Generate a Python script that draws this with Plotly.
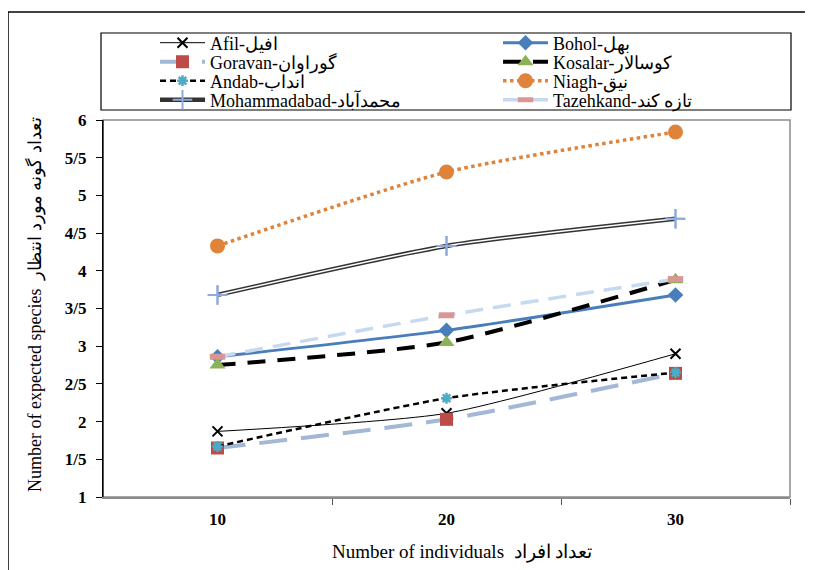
import plotly.graph_objects as go

x_vals = [10, 20, 30]
afil = [1.87, 2.11, 2.90]
bohol = [2.86, 3.21, 3.68]
goravan = [1.65, 2.03, 2.64]
kosalar = [2.75, 3.05, 3.88]
andab = [1.67, 2.31, 2.65]
niagh = [4.33, 5.31, 5.84]
mohammadabad = [3.68, 4.33, 4.69]
tazehkand = [2.86, 3.41, 3.89]

y_ticks = [1, 1.5, 2, 2.5, 3, 3.5, 4, 4.5, 5, 5.5, 6]
y_tick_text = ["1", "1/5", "2", "2/5", "3", "3/5", "4", "4/5", "5", "5/5", "6"]
x_tick_text = ["10", "20", "30"]

serif = "'Liberation Serif', 'Times New Roman', serif"

fig = go.Figure()

def add(name, y, color, width, dash, symbol, mcolor, msize, mline, legend):
    fig.add_trace(go.Scatter(
        x=x_vals, y=y, name=name, mode="lines+markers", legend=legend,
        line=dict(color=color, width=width, dash=dash, shape="spline", smoothing=0.6),
        marker=dict(symbol=symbol, color=mcolor, size=msize,
                    line=mline if mline else dict(width=0)),
    ))

add("Afil-افیل", afil, "black", 1, "solid", "x-thin", "black", 10,
    dict(color="black", width=2), "legend")
add("Bohol-بهل", bohol, "#4A7EBB", 3, "solid", "diamond", "#4A7EBB", 12, None, "legend2")
add("Goravan-گوراوان", goravan, "#A3B8D6", 4, "28px,14px", "square", "#BE4B48", 13, None, "legend3")
add("Kosalar-کوسالار", kosalar, "black", 4, "18px,12px", "triangle-up", "#8DB255", 14, None, "legend4")
add("Andab-انداب", andab, "black", 2.5, "6px,4px", "asterisk-open", "#4BACC6", 9,
    dict(color="#4BACC6", width=2.5), "legend5")
add("Niagh-نیق", niagh, "#E0833A", 3.5, "dot", "circle", "#E0833A", 15, None, "legend6")
add("Mohammadabad-محمدآباد", mohammadabad, "#333333", 4.5, "solid", "cross-thin", "#8EAADB", 14,
    dict(color="#8EAADB", width=2), "legend7")
fig.add_trace(go.Scatter(x=x_vals, y=mohammadabad, mode="lines", showlegend=False,
                         line=dict(color="white", width=1.5, shape="spline", smoothing=0.6),
                         hoverinfo="skip"))
fig.add_trace(go.Scatter(x=x_vals, y=mohammadabad, mode="markers", showlegend=False,
                         marker=dict(symbol="cross-thin", size=14,
                                     line=dict(color="#8EAADB", width=2)),
                         hoverinfo="skip"))
add("Tazehkand-تازه کند", tazehkand, "#C6D9F1", 3.5, "18px,10px", "line-ew", "#D99694", 11,
    dict(color="#D99694", width=6), "legend8")

# geometry in screen pixels (page has an 8px body margin)
W, H = 687.0, 377.0
def px(xp):
    return (xp - 103) / W
def py(yp):
    return (497 - yp) / H

shapes = [
    dict(type="rect", xref="paper", yref="paper", x0=0, y0=0, x1=1, y1=1,
         line=dict(color="#8C8C8C", width=1.5), layer="below"),
    dict(type="line", xref="paper", yref="paper", x0=0, y0=0, x1=0, y1=1,
         line=dict(color="black", width=1)),
    dict(type="rect", xref="paper", yref="paper", x0=px(101), x1=px(791), y0=py(110), y1=py(33),
         line=dict(color="black", width=1.2)),
    dict(type="line", xref="paper", yref="paper", x0=px(8), x1=px(820), y0=py(12), y1=py(12),
         line=dict(color="black", width=1.5)),
    dict(type="line", xref="paper", yref="paper", x0=px(8), x1=px(8), y0=py(12), y1=py(580),
         line=dict(color="black", width=1.5)),
]

def leg(xs, ys):
    return dict(
        orientation="v", x=px(xs), y=py(ys), xanchor="left", yanchor="middle",
        font=dict(family=serif, size=18, color="black"),
        bgcolor="rgba(0,0,0,0)", borderwidth=0, itemwidth=45,
    )

rows = [43, 62, 81, 100]
col1, col2 = 155, 498

annotations = [
    dict(text="Number of individuals  تعداد افراد", xref="paper", yref="paper",
         x=px(462), y=py(552), xanchor="center", yanchor="middle", showarrow=False,
         font=dict(family=serif, size=19, color="black")),
    dict(text="Number of expected species  تعداد گونه مورد انتظار", xref="paper", yref="paper",
         x=px(35), y=py(305), xanchor="center", yanchor="middle", showarrow=False,
         textangle=-90, font=dict(family=serif, size=18, color="black")),
]

fig.update_layout(
    width=805, height=562,
    margin=dict(l=95, r=23, t=112, b=73, autoexpand=False),
    paper_bgcolor="white", plot_bgcolor="white",
    font=dict(family=serif, color="black", size=16),
    shapes=shapes, annotations=annotations,
    showlegend=True,
    legend=leg(col1, rows[0]),
    legend2=leg(col2, rows[0]),
    legend3=leg(col1, rows[1]),
    legend4=leg(col2, rows[1]),
    legend5=leg(col1, rows[2]),
    legend6=leg(col2, rows[2]),
    legend7=leg(col1, rows[3]),
    legend8=leg(col2, rows[3]),
    xaxis=dict(
        range=[5, 35], tickvals=x_vals, ticktext=x_tick_text, ticks="", automargin=False,
        showgrid=False, zeroline=False, showline=True, linecolor="#8C8C8C", linewidth=1.5,
        tickfont=dict(family=serif, size=17, color="black", weight="bold"),
        ticklabelstandoff=6,
        minor=dict(tickvals=[15, 25, 35], ticks="outside", ticklen=6, tickcolor="#555555", tickwidth=1),
    ),
    yaxis=dict(
        range=[1, 6], tickvals=y_ticks, ticktext=y_tick_text, ticks="outside", ticklen=6,
        automargin=False, ticklabelstandoff=6,
        tickcolor="black", showgrid=False, zeroline=False, showline=True, linecolor="black",
        tickfont=dict(family=serif, size=17, color="black", weight="bold"),
    ),
)

fig.write_html("out.html")
